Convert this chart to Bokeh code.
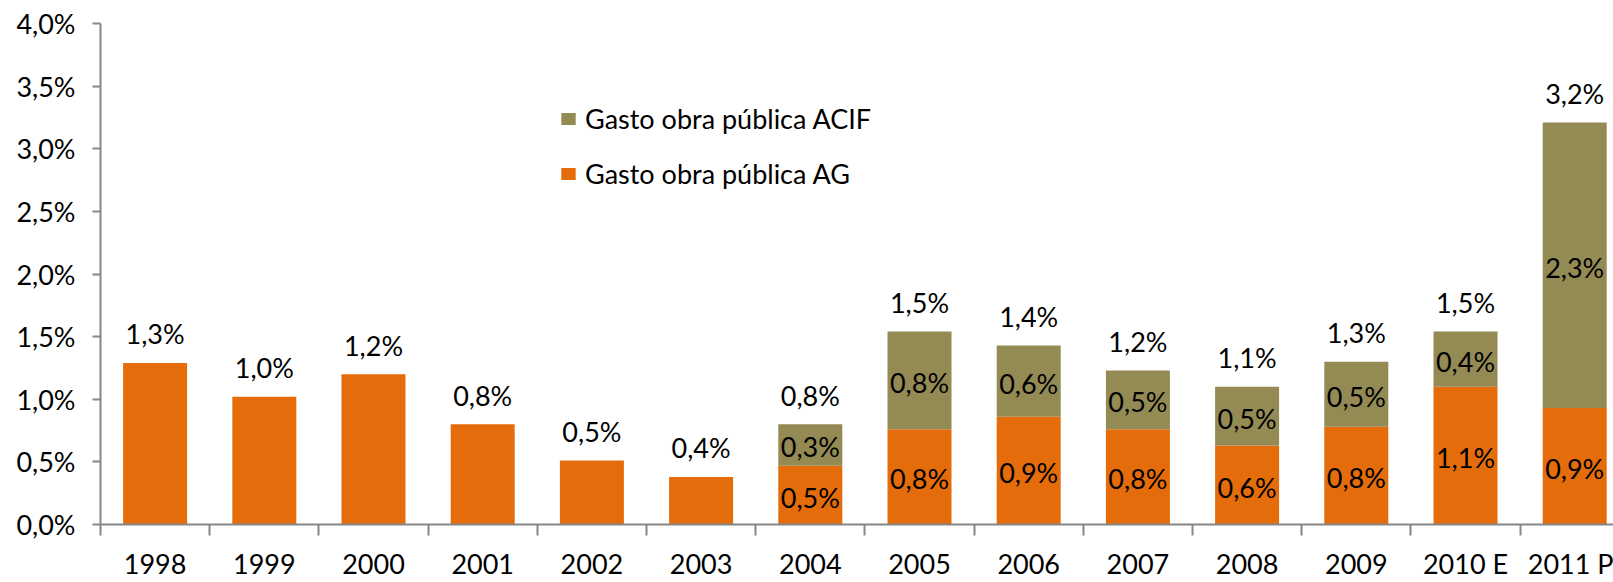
from bokeh.plotting import figure
from bokeh.models import (ColumnDataSource, Range1d, FixedTicker, CustomJSTickFormatter,
                          Legend, LegendItem)
from bokeh.embed import file_html
from bokeh.resources import INLINE
from bokeh.core.properties import value

# ---- data ----
categories = ["1998", "1999", "2000", "2001", "2002", "2003", "2004",
              "2005", "2006", "2007", "2008", "2009", "2010 E", "2011 P"]
gasto_ag = [1.29, 1.02, 1.20, 0.80, 0.51, 0.38, 0.47,
            0.76, 0.86, 0.76, 0.63, 0.78, 1.10, 0.93]
gasto_acif = [0.0, 0.0, 0.0, 0.0, 0.0, 0.0, 0.33,
              0.78, 0.57, 0.47, 0.47, 0.52, 0.44, 2.28]
y_ticks = [0.0, 0.5, 1.0, 1.5, 2.0, 2.5, 3.0, 3.5, 4.0]
series_names = ["Gasto obra pública ACIF", "Gasto obra pública AG"]

FONT = "Lato"
FS = "27px"
ORANGE = "#E46C0A"
OLIVE = "#948A54"
AXIS = "#868686"
TXT = "#000000"


def fmt(v):
    return f"{v:.1f}".replace(".", ",") + "%"


n = len(categories)
idx = list(range(n))
total = [a + b for a, b in zip(gasto_ag, gasto_acif)]

src = ColumnDataSource(dict(
    x=idx, ag=gasto_ag, total=total,
    total_lbl=[fmt(t) for t in total],
))

inner_i = [i for i in idx if gasto_acif[i] > 0]
inner = ColumnDataSource(dict(
    x=inner_i,
    ag_mid=[gasto_ag[i] / 2 for i in inner_i],
    acif_mid=[gasto_ag[i] + gasto_acif[i] / 2 for i in inner_i],
    ag_lbl=[fmt(gasto_ag[i]) for i in inner_i],
    acif_lbl=[fmt(gasto_acif[i]) for i in inner_i],
))

W, H = 1613, 582
LEFT = 100
STEP = 109.2
p = figure(width=W, height=H, output_backend="svg", toolbar_location=None,
           x_range=Range1d(-0.5, -0.5 + (W - LEFT) / STEP),
           y_range=Range1d(0, 4.0),
           min_border_left=LEFT, min_border_right=0, min_border_top=23,
           min_border_bottom=0)
p.xgrid.visible = False
p.ygrid.visible = False
p.outline_line_color = None
p.background_fill_color = "white"
p.border_fill_color = "white"

# y axis
yax = p.yaxis[0]
yax.ticker = FixedTicker(ticks=y_ticks)
yax.formatter = CustomJSTickFormatter(code="return tick.toFixed(1).replace('.', ',') + '%';")
yax.axis_line_color = AXIS
yax.axis_line_width = 2
yax.major_tick_line_color = AXIS
yax.major_tick_line_width = 2
yax.major_tick_in = 0
yax.major_tick_out = 8
yax.minor_tick_line_color = None
yax.major_label_text_font = FONT
yax.major_label_text_font_size = FS
yax.major_label_text_color = TXT
yax.major_label_standoff = 17

# x axis
xax = p.xaxis[0]
xax.ticker = FixedTicker(ticks=idx, minor_ticks=[i - 0.5 for i in range(n + 1)])
xax.formatter = CustomJSTickFormatter(args=dict(labels=categories),
                                      code="return labels[Math.round(tick)];")
xax.axis_line_color = AXIS
xax.axis_line_width = 2
xax.major_tick_line_color = None
xax.major_tick_in = 0
xax.major_tick_out = 0
xax.minor_tick_line_color = AXIS
xax.minor_tick_line_width = 2
xax.minor_tick_in = 0
xax.minor_tick_out = 11
xax.major_label_text_font = FONT
xax.major_label_text_font_size = FS
xax.major_label_text_color = TXT
xax.major_label_text_line_height = 0.7
xax.major_label_standoff = 11
xax.axis_label_standoff = 0

BW = 0.586
r_ag = p.vbar(x="x", bottom=0, top="ag", width=BW, source=src,
              fill_color=ORANGE, line_color=None)
r_acif = p.vbar(x="x", bottom="ag", top="total", width=BW, source=src,
                fill_color=OLIVE, line_color=None)

common = dict(text_align="center", text_baseline="middle", text_font=value(FONT),
              text_font_size=FS, text_color=TXT)
p.text(x="x", y="total", text="total_lbl", y_offset=-29, source=src, **common)
p.text(x="x", y="ag_mid", text="ag_lbl", y_offset=2, source=inner, **common)
p.text(x="x", y="acif_mid", text="acif_lbl", y_offset=2, source=inner, **common)

legend = Legend(items=[LegendItem(label=series_names[0], renderers=[r_acif]),
                       LegendItem(label=series_names[1], renderers=[r_ag])],
                location=(459, 334), orientation="vertical",
                glyph_width=18, glyph_height=15, label_standoff=8, spacing=22,
                padding=0, margin=0, border_line_color=None,
                background_fill_alpha=0, label_text_font=FONT,
                label_text_font_size=FS, label_text_color=TXT, label_height=15)
p.add_layout(legend)

open("out.html", "w").write(file_html(p, INLINE))
